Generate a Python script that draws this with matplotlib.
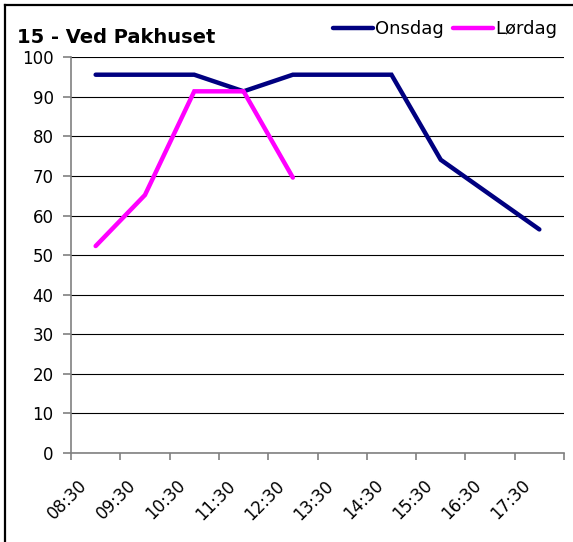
import numpy as np
import matplotlib.pyplot as plt
from matplotlib.lines import Line2D

plt.rcParams['font.family'] = ['DejaVu Sans']

times = ["08:30", "09:30", "10:30", "11:30", "12:30",
         "13:30", "14:30", "15:30", "16:30", "17:30"]
onsdag = [95.6, 95.6, 95.6, 91.4, 95.6, 95.6, 95.6, 74.1, 65.3, 56.5]
lordag = [52.3, 65.2, 91.4, 91.4, 69.6]

W, H = 573, 542
fig = plt.figure(figsize=(W / 100, H / 100), dpi=100)
ax = fig.add_axes([71 / W, 1 - 453 / H, (564 - 71) / W, (453 - 57.3) / H])

x = np.arange(len(times)) + 0.5
ax.plot(x, onsdag, color="#000080", lw=3.2, solid_capstyle="round",
        solid_joinstyle="miter", label="Onsdag", zorder=3)
ax.plot(x[:len(lordag)], lordag, color="#FF00FF", lw=3.2, solid_capstyle="round",
        solid_joinstyle="miter", label="Lørdag", zorder=3)

ax.set_xlim(0, len(times))
ax.set_ylim(0, 100)
ax.set_yticks(np.arange(0, 101, 10))
ax.yaxis.grid(True, color="black", lw=0.8)
ax.set_axisbelow(True)

# category boundaries get the tick marks, labels sit near the middle
# (nudged left a bit so the rotated text ends like Excel's)
ax.set_xticks(np.arange(0, len(times) + 1))
ax.set_xticklabels([])
ax.set_xticks(x - 0.36, minor=True)
ax.set_xticklabels(times, minor=True, rotation=45, ha="right",
                   rotation_mode="anchor", fontsize=12)
ax.tick_params(axis="x", which="minor", length=0, pad=17)
ax.tick_params(axis="x", which="major", length=5, color="#808080", width=1.2)
ax.tick_params(axis="y", length=5.5, color="#808080", width=1.2, labelsize=12, pad=7)

for s in ["top", "right"]:
    ax.spines[s].set_visible(False)
for s in ["left", "bottom"]:
    ax.spines[s].set_color("#808080")
    ax.spines[s].set_linewidth(1.2)

fig.text(17 / W, 1 - 43 / H, "15 - Ved Pakhuset", fontsize=14,
         fontweight="bold", ha="left", va="baseline")

fig.legend(loc="center right", bbox_to_anchor=(557 / W, 1 - 29 / H), frameon=False,
           ncol=2, fontsize=13, handlelength=2.2, handletextpad=0.12,
           columnspacing=0.5, borderaxespad=0, borderpad=0)

# frame only on the left and top, as in the cropped screenshot
fig.add_artist(Line2D([5 / W, 5 / W], [0, 1 - 5 / H], transform=fig.transFigure,
                      color="black", lw=1.6))
fig.add_artist(Line2D([5 / W, 1], [1 - 5 / H, 1 - 5 / H], transform=fig.transFigure,
                      color="black", lw=1.6))

fig.savefig("out.png", dpi=100)
